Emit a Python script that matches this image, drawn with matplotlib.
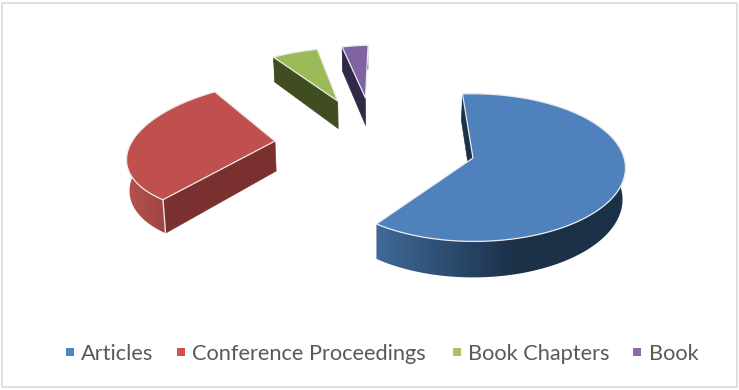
# pizza 3d com fatias separadas, desenhada na mao com poligonos
# cada fatia eh projetada com uma homografia simples pra dar a perspectiva

import matplotlib
matplotlib.use("Agg")
import matplotlib.pyplot as plt
import numpy as np
from matplotlib.colors import LinearSegmentedColormap
from matplotlib.patches import Polygon, Rectangle

labels = ["Articles", "Conference Proceedings", "Book Chapters", "Book"]
shares = [61.0, 30.0, 5.7, 3.3]

top_colors = ["#4f81bd", "#c0504d", "#9bbb59", "#8064a2"]
cut_colors = ["#1c3048", "#7a302e", "#3f4d20", "#322848"]
wall_near = ["#3f6a99", "#a24643", "#3f4d20", "#322848"]
wall_far = ["#1c3048", "#b8514d", "#3f4d20", "#322848"]
wall_span = [140, 40, 1, 1]
legend_colors = ["#4f86c6", "#d0504f", "#a5c55c", "#8a68b0"]

# deslocamento de cada fatia no plano da pizza (raio = 1)
explode_x = [0.0, -1.347, -1.0, -0.8]
explode_y = [0.0, 0.24, 0.877, 0.93]
radius_start = [1.005, 0.94, 1.05, 1.05]
radius_end = [0.98, 1.0, 1.05, 1.05]

start_angle = -4.5
cx, cy = 473, 158
rx, ry = 152, 73
persp = 0.141
depth = 31
vanish_x, shrink = 378, 0.988

legend_box_x = [70, 181, 457, 637]
legend_text_x = [81, 192, 468, 649]


def project(x, y):
    # plano da pizza -> pixels da imagem
    w = 1 + persp * y
    return cx + rx * x / w, cy - ry * y / w


def drop(sx, sy, y):
    # mesmo ponto na base da fatia
    w = 1 + persp * y
    return vanish_x + (sx - vanish_x) * shrink, sy + depth / w


def draw_slice(ax, i, a0, a1):
    ox, oy = explode_x[i], explode_y[i]
    theta = np.radians(np.linspace(a0, a1, 160))
    radius = np.linspace(radius_start[i], radius_end[i], 160)
    xs = ox + radius * np.sin(theta)
    ys = oy + radius * np.cos(theta)
    sx, sy = project(xs, ys)
    bx, by = drop(sx, sy, ys)
    ax0, ay0 = project(ox, oy)
    abx, aby = drop(ax0, ay0, oy)

    # parede externa: gradiente horizontal recortado pelo contorno da parede
    front_x = sx[-1] if i == 0 else sx[0]
    wall = Polygon(list(zip(sx, sy)) + list(zip(bx[::-1], by[::-1])),
                   facecolor="none", edgecolor="none")
    ax.add_patch(wall)
    grid = np.linspace(sx.min() - 5, sx.max() + 5, 300)
    shade = np.clip(np.abs(grid - front_x) / wall_span[i], 0, 1)
    cmap = LinearSegmentedColormap.from_list("wall", [wall_near[i], wall_far[i]])
    img = ax.imshow(shade[np.newaxis, :], cmap=cmap, vmin=0, vmax=1,
                    extent=(grid[0], grid[-1], by.max() + 5, sy.min() - 5),
                    aspect="auto", interpolation="bilinear", zorder=0.5)
    img.set_clip_path(wall)

    # so a parede de corte do inicio da fatia aparece
    face = [(ax0, ay0), (sx[0], sy[0]), (bx[0], by[0]), (abx, aby)]
    ax.add_patch(Polygon(face, facecolor=cut_colors[i],
                         edgecolor=cut_colors[i], lw=0.4))

    # quina clara entre a parede de corte e a externa
    if i == 1:
        ax.plot([sx[0], bx[0]], [sy[0], by[0]], color="#e6e6e6", lw=1.0,
                zorder=1.5)

    top = [(ax0, ay0)] + list(zip(sx, sy))
    ax.add_patch(Polygon(top, facecolor=top_colors[i], edgecolor="#ececec",
                         lw=0.9, joinstyle="round", zorder=2))


fig = plt.figure(figsize=(7.39, 3.90), dpi=100, facecolor="white")
ax = fig.add_axes([0, 0, 1, 1])

ax.add_patch(Rectangle((2, 3), 735, 384, facecolor="white",
                       edgecolor="#d9d9d9", lw=1.2, zorder=-1))

# os angulos andam no sentido horario a partir do topo
sweeps = np.array(shares) / sum(shares) * 360
edges = start_angle + np.concatenate([[0], np.cumsum(sweeps)])
for i in reversed(range(len(labels))):
    draw_slice(ax, i, edges[i], edges[i + 1])

for i, label in enumerate(labels):
    ax.add_patch(Rectangle((legend_box_x[i] - 4, 348), 8, 8,
                           facecolor=legend_colors[i], edgecolor="none"))
    ax.text(legend_text_x[i], 352, label, family="Lato", fontsize=15.7,
            color="#595959", va="center_baseline", ha="left")

# imshow mexe nos limites, entao fixa tudo no fim
ax.set_xlim(0, 739)
ax.set_ylim(390, 0)
ax.axis("off")

fig.savefig("out.png", dpi=100)
plt.close(fig)
